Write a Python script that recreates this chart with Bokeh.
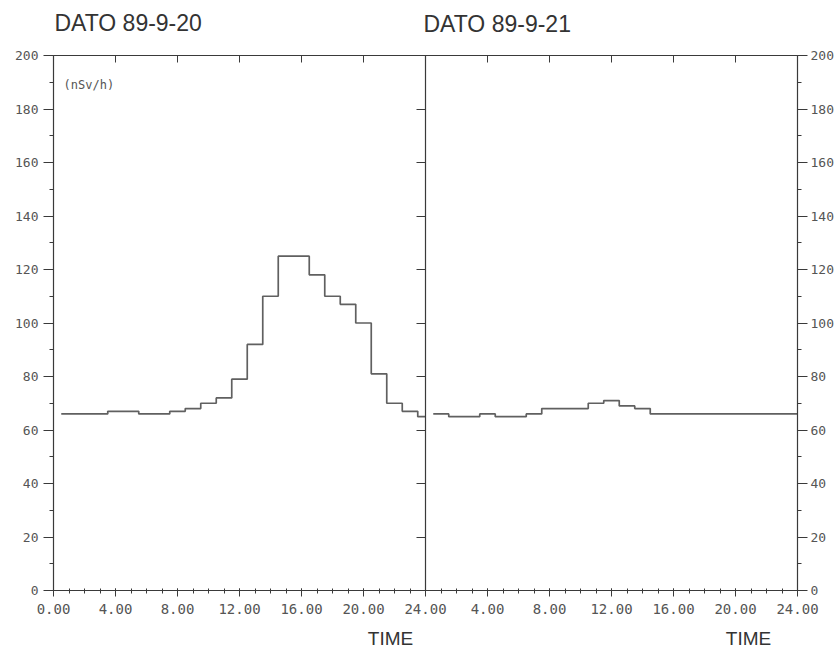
from bokeh.plotting import figure
from bokeh.models import Range1d, LinearAxis, FixedTicker, Label
from bokeh.embed import file_html
from bokeh.resources import INLINE

# ---- data -------------------------------------------------------------
hours = list(range(1, 25))
day1 = [66, 66, 66, 67, 67, 66, 66, 67, 68, 70, 72, 79,
        92, 110, 125, 125, 118, 110, 107, 100, 81, 70, 67, 65]
day2 = [66, 65, 65, 66, 65, 65, 66, 68, 68, 68, 70, 71,
        69, 68, 66, 66, 66, 66, 66, 66, 66, 66, 66, 66]
titles = ["DATO 89-9-20", "DATO 89-9-21"]
unit_label = "(nSv/h)"
x_label = "TIME"
day_span = 24
y_min, y_max = 0, 200
y_major = list(range(0, 201, 20))
y_minor = list(range(0, 201, 10))
x_major_per_day = list(range(0, 25, 4))
x_tick_labels = ["0.00", "4.00", "8.00", "12.00", "16.00", "20.00", "24.00"]

# ---- derived ----------------------------------------------------------
x_end = 2 * day_span
x_major = sorted(set(x_major_per_day + [day_span + t for t in x_major_per_day]))
x_minor = list(range(0, x_end + 1))
overrides = {}
for t, lab in zip(x_major_per_day, x_tick_labels):
    overrides[t] = lab
    overrides[day_span + t] = lab
overrides[day_span] = x_tick_labels[-1]


def step_xy(vals, offset):
    xs = [offset + h - 0.5 for h in hours] + [offset + hours[-1]]
    ys = list(vals) + [vals[-1]]
    return xs, ys


# canvas / frame layout (pixels)
W, H = 840, 648
FL, FR, FT, FB = 53, 797, 55, 590        # where the plotting box sits
sx = (FR - FL) / x_end
sy = (FB - FT) / (y_max - y_min)
xr = Range1d(-FL / sx, x_end + (W - FR) / sx)
yr = Range1d(y_min - (H - FB) / sy, y_max + FT / sy)

p = figure(width=W, height=H, output_backend="svg", toolbar_location=None,
           x_range=xr, y_range=yr, min_border=0,
           x_axis_location=None, y_axis_location=None)
p.outline_line_color = None
p.xgrid.visible = False
p.ygrid.visible = False

axis_col = "#3a3a3a"
lab_col = "#555555"
tick_font = "DejaVu Sans Mono"

yt = FixedTicker(ticks=y_major, minor_ticks=y_minor)
xt = FixedTicker(ticks=x_major, minor_ticks=x_minor)

left = LinearAxis(ticker=yt, fixed_location=0, bounds=(y_min, y_max))
mid = LinearAxis(ticker=FixedTicker(ticks=y_major, minor_ticks=[]),
                 fixed_location=day_span, bounds=(y_min, y_max))
right = LinearAxis(ticker=yt, fixed_location=x_end, bounds=(y_min, y_max))
bottom = LinearAxis(ticker=xt, fixed_location=y_min, bounds=(0, x_end),
                    major_label_overrides=overrides)
top = LinearAxis(ticker=FixedTicker(ticks=x_major, minor_ticks=[]),
                 fixed_location=y_max, bounds=(0, x_end))

for ax in (left, mid, right, bottom, top):
    ax.axis_line_color = axis_col
    ax.axis_line_width = 1.2
    ax.major_tick_line_color = axis_col
    ax.minor_tick_line_color = axis_col
    ax.major_label_text_font = tick_font
    ax.major_label_text_color = lab_col

for ax in (left, right):
    ax.major_tick_out = 10
    ax.major_tick_in = 0
    ax.minor_tick_out = 4
    ax.minor_tick_in = 0
    ax.major_label_text_font_size = "13px"
left.major_label_standoff = 5
right.major_label_standoff = 3

mid.major_tick_out = 9
mid.major_tick_in = 0
mid.minor_tick_line_color = None
mid.major_label_text_color = None
mid.major_label_text_font_size = "0px"

bottom.major_tick_out = 6
bottom.major_tick_in = 2
bottom.minor_tick_out = 3
bottom.minor_tick_in = 2
bottom.major_label_standoff = 7
bottom.major_label_text_font_size = "14px"

top.major_tick_in = 7
top.major_tick_out = 0
top.minor_tick_line_color = None
top.major_label_text_color = None
top.major_label_text_font_size = "0px"

p.add_layout(left, "left")
p.add_layout(mid, "left")
p.add_layout(right, "right")
p.add_layout(bottom, "below")
p.add_layout(top, "above")

# data
for i, vals in enumerate([day1, day2]):
    xs, ys = step_xy(vals, i * day_span)
    p.step(xs, ys, mode="after", line_color="#606060", line_width=1.7)

# texts
title_x = [0.06, day_span - 0.13]
time_x = [21.74, 44.84]
for i, t in enumerate(titles):
    p.add_layout(Label(x=title_x[i], y=212.0 - 0.3 * i, text=t,
                       text_font="Liberation Sans", text_font_size="23px",
                       text_color="#333333", text_baseline="alphabetic"))
    p.add_layout(Label(x=time_x[i], y=-17.9, text=x_label,
                       text_font="Liberation Sans", text_font_size="19px",
                       text_color="#333333", text_align="center",
                       text_baseline="alphabetic"))

p.add_layout(Label(x=0.65, y=189.0, text=unit_label, text_font=tick_font,
                   text_font_size="12px", text_color=lab_col,
                   text_baseline="alphabetic"))

open("out.html", "w").write(file_html(p, INLINE))
